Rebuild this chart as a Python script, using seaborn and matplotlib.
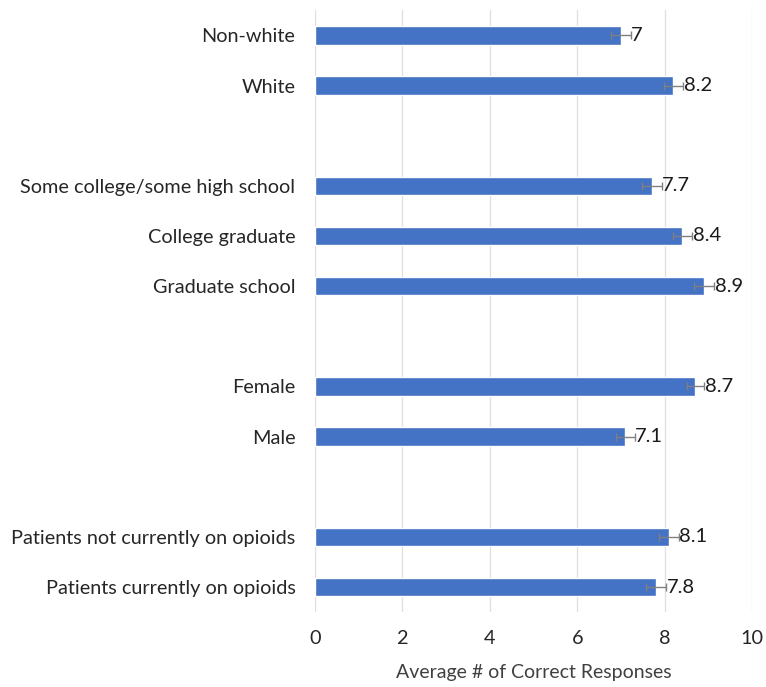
import pandas as pd
import matplotlib.pyplot as plt
import seaborn as sns

# rows from top to bottom, blanks are spacer slots between groups
slots = ["Non-white", "White", " ",
         "Some college/some high school", "College graduate", "Graduate school", "  ",
         "Female", "Male", "   ",
         "Patients not currently on opioids", "Patients currently on opioids"]
groups = ["Non-white", "White",
          "Some college/some high school", "College graduate", "Graduate school",
          "Female", "Male",
          "Patients not currently on opioids", "Patients currently on opioids"]
means = [7.0, 8.2, 7.7, 8.4, 8.9, 8.7, 7.1, 8.1, 7.8]
errors = [0.22, 0.22, 0.23, 0.22, 0.23, 0.20, 0.21, 0.22, 0.23]
labels = ["7", "8.2", "7.7", "8.4", "8.9", "8.7", "7.1", "8.1", "7.8"]

data = pd.DataFrame({"group": groups, "mean": means, "err": errors, "label": labels})

sns.set_style("white")
plt.rcParams["font.family"] = ["Lato", "DejaVu Sans"]

fig = plt.figure(figsize=(7.66, 6.87), dpi=100)
ax = fig.add_axes([0.411, 0.109, 0.571, 0.876])

sns.barplot(data=data, x="mean", y="group", order=slots, color="#4472C4",
            width=0.37, errorbar=None, saturation=1, ax=ax)

pos = {name: i for i, name in enumerate(slots)}
for _, row in data.iterrows():
    y = pos[row["group"]]
    ax.errorbar(row["mean"], y, xerr=row["err"], fmt="none", ecolor="#808080",
                elinewidth=1, capsize=3, capthick=1, zorder=3)
    ax.annotate(row["label"], (row["mean"] + row["err"], y), xytext=(0.5, 0),
                textcoords="offset points", va="center", ha="left",
                fontsize=14.5, color="#1a1a1a")

ax.set_xlim(0, 10)
ax.set_xticks([0, 2, 4, 6, 8, 10])
ax.set_ylim(len(slots) - 0.5, -0.5)
ax.grid(axis="x", color="#dedede", linewidth=0.9)
ax.set_axisbelow(True)
for s in ax.spines.values():
    s.set_visible(False)
ax.tick_params(axis="both", length=0, labelsize=14.3, labelcolor="#262626")
ax.tick_params(axis="x", pad=13)
ax.tick_params(axis="y", pad=14)
ax.set_ylabel("")
ax.set_xlabel("Average # of Correct Responses", fontsize=14, color="#404040", labelpad=12)

plt.savefig("out.png", dpi=100)
print("done!")
